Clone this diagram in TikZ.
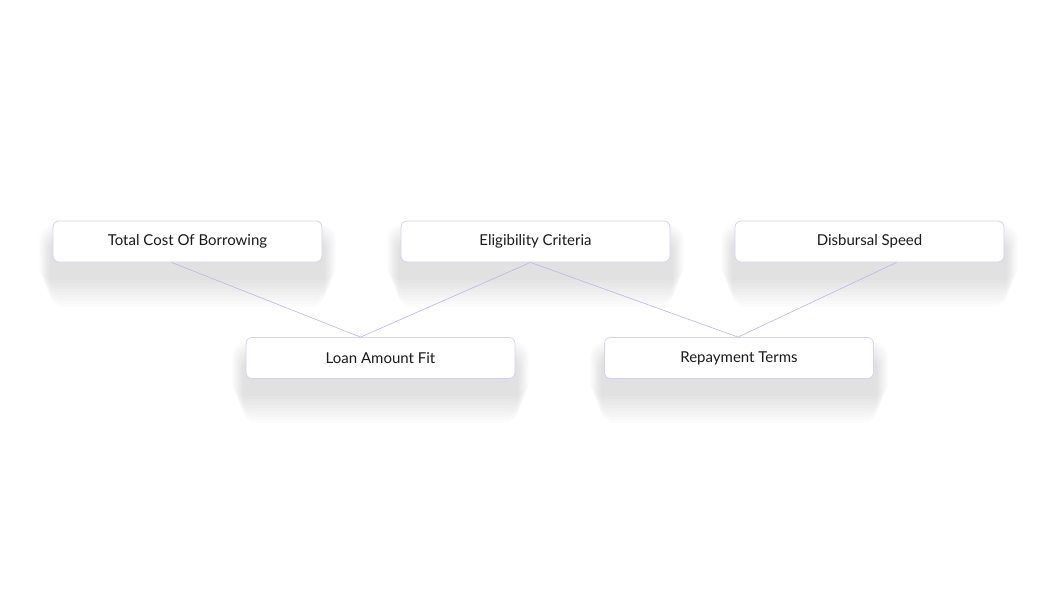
\documentclass[tikz,border=0pt]{standalone}
\usepackage{fontspec}
\setmainfont{Lato}
\usetikzlibrary{calc}
\definecolor{bd}{HTML}{D6D1F2}
\definecolor{ln}{HTML}{BDB4EC}
\definecolor{tx}{HTML}{1A1A1A}
\tikzset{
  box/.style={draw=bd, line width=0.8pt, fill=white, rounded corners=6pt, minimum width=269pt, minimum height=41pt, inner sep=0pt, font=\fontsize{15}{18}\selectfont, text=tx},
  conn/.style={draw=ln, line width=0.6pt},
}
\newcommand{\softshadow}[4]{%
  \foreach \k in {0,...,9}{
    \fill[black, opacity=0.012, rounded corners=14pt] ({#1-14+\k*1.2},{#2+4+\k*1.5}) rectangle ({#3+14-\k*1.2},{#4+18+\k*3});
  }}
\begin{document}
\begin{tikzpicture}[x=1pt,y=-1pt]
\useasboundingbox (0,0) rectangle (1050,600);
\fill[white] (0,0) rectangle (1050,600);
\softshadow{53}{221}{322}{262}
\softshadow{401}{221}{670}{262}
\softshadow{735}{221}{1004}{262}
\softshadow{246}{338}{515}{378}
\softshadow{604}{338}{874}{378}
\node[box] (tc) at (187.5,241.5) {Total Cost Of Borrowing};
\node[box] (ec) at (535.5,241.5) {Eligibility Criteria};
\node[box] (ds) at (869.5,241.5) {Disbursal Speed};
\node[box] (la) at (380.5,358) {Loan Amount Fit};
\node[box] (rt) at (739,358) {Repayment Terms};
\draw[conn] ($(tc.south)+(-16,0)$) -- ($(la.north)+(-20,0)$);
\draw[conn] ($(ec.south)+(-5,0)$) -- ($(la.north)+(-20,0)$);
\draw[conn] ($(ec.south)+(-5,0)$) -- ($(rt.north)+(-1,0)$);
\draw[conn] ($(ds.south)+(27,0)$) -- ($(rt.north)+(-1,0)$);
\end{tikzpicture}
\end{document}
